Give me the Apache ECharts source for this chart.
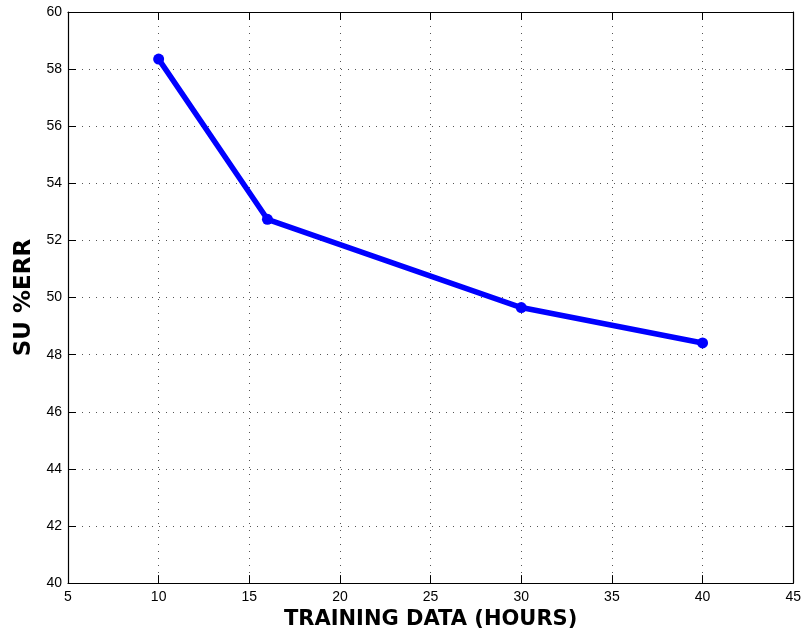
<!DOCTYPE html>
<html><head><meta charset="utf-8">
<script src="https://cdn.jsdelivr.net/npm/echarts@6/dist/echarts.min.js"></script>
<style>html,body{margin:0;padding:0;background:#fff}#c{width:804px;height:635px}</style>
</head><body><div id="c"></div>
<script>
const hours = [10, 16, 30, 40];
const errValues = [58.35, 52.74, 49.65, 48.41];
const xTicks = [5, 10, 15, 20, 25, 30, 35, 40, 45];
const yTicks = [40, 42, 44, 46, 48, 50, 52, 54, 56, 58, 60];

const chart = echarts.init(document.getElementById('c'), null, {renderer: 'canvas'});
const font = 'Liberation Sans, Arial, Helvetica, sans-serif';
const titleFont = 'DejaVu Sans, Liberation Sans, sans-serif';
const gridLine = {show: true, lineStyle: {color: '#555', type: [1, 6], width: 1}};
const tick = {show: true, inside: true, length: 8, lineStyle: {color: '#000', width: 1}};
const axLine = {show: true, lineStyle: {color: '#000', width: 1.2}};
chart.setOption({
  animation: false,
  backgroundColor: '#fff',
  grid: {left: 68, right: 10, top: 12, bottom: 50, containLabel: false},
  xAxis: [{
    type: 'value', min: xTicks[0], max: xTicks[xTicks.length - 1], interval: 5,
    name: 'TRAINING DATA (HOURS)', nameLocation: 'middle', nameGap: 20,
    nameTextStyle: {fontFamily: titleFont, fontSize: 21, fontWeight: 'bold', color: '#000'},
    axisLine: axLine, axisTick: tick,
    axisLabel: {fontFamily: font, fontSize: 14, color: '#000', margin: 7},
    splitLine: gridLine
  }, {
    type: 'value', position: 'top', min: xTicks[0], max: xTicks[xTicks.length - 1], interval: 5,
    axisLine: axLine, axisTick: tick,
    axisLabel: {show: false}, splitLine: {show: false}
  }],
  yAxis: [{
    type: 'value', min: yTicks[0], max: yTicks[yTicks.length - 1], interval: 2,
    name: 'SU %ERR', nameLocation: 'middle', nameGap: 31, nameRotate: 90,
    nameTextStyle: {fontFamily: titleFont, fontSize: 23, fontWeight: 'bold', color: '#000'},
    axisLine: axLine, axisTick: tick,
    axisLabel: {fontFamily: font, fontSize: 14, color: '#000', margin: 6},
    splitLine: gridLine
  }, {
    type: 'value', position: 'right', min: yTicks[0], max: yTicks[yTicks.length - 1], interval: 2,
    axisLine: axLine, axisTick: tick,
    axisLabel: {show: false}, splitLine: {show: false}
  }],
  series: [{
    type: 'line',
    data: hours.map((h, i) => [h, errValues[i]]),
    lineStyle: {color: '#0000ff', width: 5.5},
    itemStyle: {color: '#0000ff'},
    symbol: 'circle', symbolSize: 11,
    z: 5
  }]
});
</script></body></html>
